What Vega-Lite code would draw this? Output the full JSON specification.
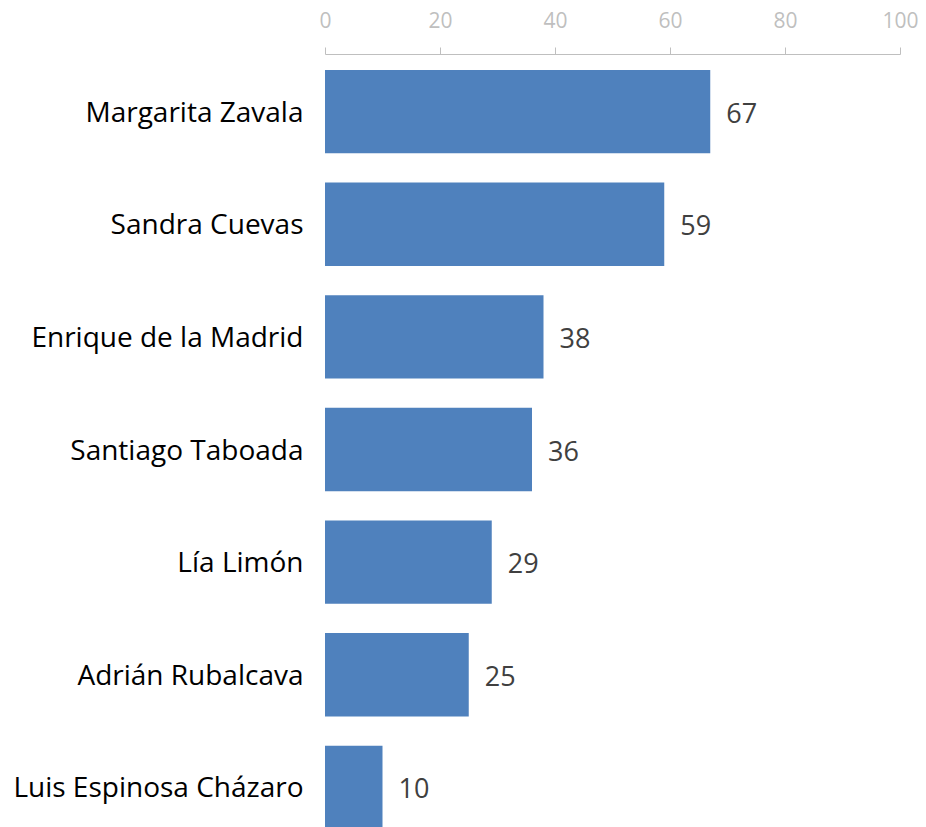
{
  "$schema": "https://vega.github.io/schema/vega-lite/v6.json",
  "autosize": "none",
  "padding": {"left": 325, "top": 54, "right": 26, "bottom": 0},
  "width": 575,
  "height": 791,
  "background": "white",
  "config": {"view": {"stroke": null}, "font": "Open Sans"},
  "data": {"values": [
    {"name": "Margarita Zavala", "value": 67},
    {"name": "Sandra Cuevas", "value": 59},
    {"name": "Enrique de la Madrid", "value": 38},
    {"name": "Santiago Taboada", "value": 36},
    {"name": "Lía Limón", "value": 29},
    {"name": "Adrián Rubalcava", "value": 25},
    {"name": "Luis Espinosa Cházaro", "value": 10}
  ]},
  "encoding": {
    "y": {"field": "name", "type": "nominal", "sort": null,
      "scale": {"paddingInner": 0.26, "paddingOuter": 0.142},
      "axis": {"title": null, "domain": false, "ticks": false, "labelPadding": 22, "labelOffset": 2,
        "labelFontSize": 28, "labelColor": "#000000", "labelFont": "Open Sans", "labelLimit": 400}},
    "x": {"field": "value", "type": "quantitative",
      "scale": {"domain": [0, 100], "nice": false},
      "axis": {"orient": "top", "title": null, "grid": false, "values": [0, 20, 40, 60, 80, 100],
        "domainColor": "#bfbfbf", "tickColor": "#bfbfbf", "tickSize": 7, "labelPadding": 16,
        "labelFontSize": 21, "labelColor": "#bfbfbf", "labelFont": "Open Sans", "labelFlush": false}}
  },
  "layer": [
    {"mark": {"type": "bar", "color": "#4f81bd"}},
    {"mark": {"type": "text", "align": "left", "baseline": "middle", "dx": 16, "dy": 3, "fontSize": 27, "color": "#404040"},
      "encoding": {"text": {"field": "value", "type": "quantitative"}}}
  ]
}
